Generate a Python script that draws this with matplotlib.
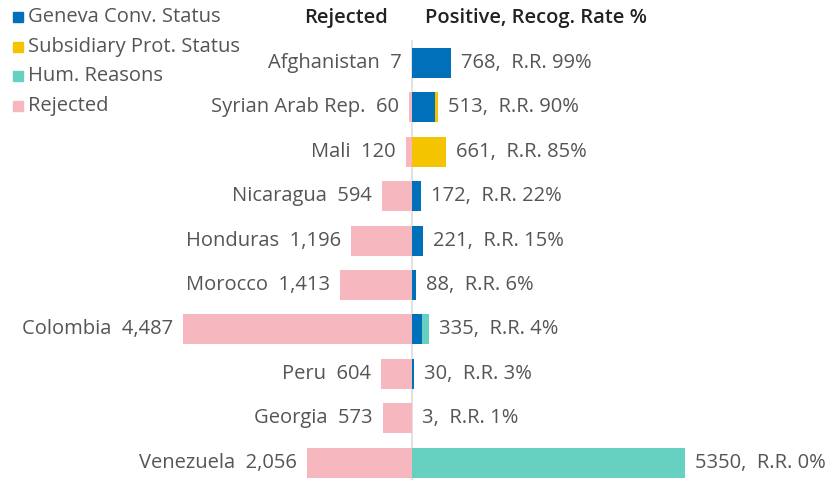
import matplotlib
matplotlib.use("Agg")
import matplotlib.pyplot as plt
from matplotlib.patches import Rectangle

# --- data ---
countries = ['Afghanistan', 'Syrian Arab Rep.', 'Mali', 'Nicaragua', 'Honduras',
             'Morocco', 'Colombia', 'Peru', 'Georgia', 'Venezuela']
rejected = [7, 60, 120, 594, 1196, 1413, 4487, 604, 573, 2056]
positive = [768, 513, 661, 172, 221, 88, 335, 30, 3, 5350]
recog_rate = [99, 90, 85, 22, 15, 6, 4, 3, 1, 0]
geneva = [768, 445, 0, 172, 221, 88, 200, 30, 3, 0]
subsidiary = [0, 65, 661, 0, 0, 0, 5, 0, 0, 0]
humanitarian = [0, 3, 0, 0, 0, 0, 130, 0, 0, 5350]

C_GEN = '#0070BA'
C_SUB = '#F5C400'
C_HUM = '#66D1C1'
C_REJ = '#F7B7BF'
TXT = '#555555'
FS = 14.5

plt.rcParams['font.family'] = ['Open Sans', 'DejaVu Sans']

fig = plt.figure(figsize=(8.3, 4.8), dpi=100)
ax = fig.add_axes([0, 0, 1, 1])

# pixel scale: zero line at x=412 px, ~0.051 px per unit
PX = 0.051
ax.set_xlim(-412 / PX, (830 - 412) / PX)
ax.set_ylim((480 - 63) / 44.4, -63 / 44.4)
ax.axis('off')

y = list(range(len(countries)))
h = 0.68

ax.plot([0, 0], [-0.5, 9.5], color='#dddddd', lw=1.2, zorder=0)

ax.barh(y, [-r for r in rejected], height=h, color=C_REJ, zorder=2)
ax.barh(y, geneva, height=h, color=C_GEN, zorder=2)
left2 = geneva
ax.barh(y, subsidiary, left=left2, height=h, color=C_SUB, zorder=2)
left3 = [a + b for a, b in zip(geneva, subsidiary)]
ax.barh(y, humanitarian, left=left3, height=h, color=C_HUM, zorder=2)

pad = 10 / PX
for i, c in enumerate(countries):
    ax.text(-rejected[i] - pad, i, f'{c}  {rejected[i]:,}', ha='right', va='center',
            fontsize=FS, color=TXT)
    ax.text(positive[i] + pad, i, f'{positive[i]},  R.R. {recog_rate[i]}%', ha='left',
            va='center', fontsize=FS, color=TXT)

# headers
fig.text(388 / 830, 1 - 18 / 480, 'Rejected', ha='right', va='center',
         fontsize=FS, color='#222222', fontweight='semibold')
fig.text(425 / 830, 1 - 18 / 480, 'Positive, Recog. Rate %', ha='left', va='center',
         fontsize=FS, color='#222222', fontweight='semibold')

# legend
legend_items = [('Geneva Conv. Status', C_GEN), ('Subsidiary Prot. Status', C_SUB),
                ('Hum. Reasons', C_HUM), ('Rejected', C_REJ)]
for k, (lab, col) in enumerate(legend_items):
    yc = 17 + 29.7 * k
    fig.add_artist(Rectangle((13 / 830, 1 - (yc + 5) / 480), 10 / 830, 10 / 480,
                             transform=fig.transFigure, color=col))
    fig.text(28 / 830, 1 - yc / 480, lab, ha='left', va='center', fontsize=FS, color=TXT)

fig.savefig('out.png', dpi=100)
